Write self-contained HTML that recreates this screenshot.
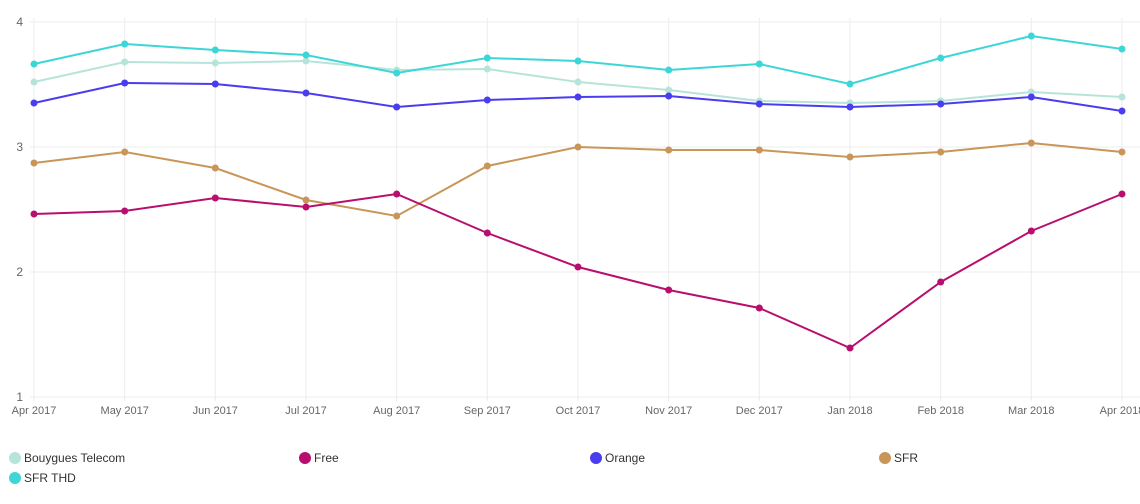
<!DOCTYPE html>
<html><head><style>
body{margin:0;background:#fff;font-family:"Liberation Sans",Arial,sans-serif;}
</style></head><body>
<svg width="1140" height="499" xmlns="http://www.w3.org/2000/svg" font-family="Liberation Sans, Arial, sans-serif">
<g stroke="#ececec" stroke-width="1">
<line x1="30" y1="22" x2="1140" y2="22"/><line x1="30" y1="147" x2="1140" y2="147"/>
<line x1="30" y1="272" x2="1140" y2="272"/><line x1="30" y1="397" x2="1140" y2="397"/>
<line x1="34" y1="18" x2="34" y2="401"/><line x1="124.7" y1="18" x2="124.7" y2="401"/><line x1="215.3" y1="18" x2="215.3" y2="401"/><line x1="306" y1="18" x2="306" y2="401"/><line x1="396.7" y1="18" x2="396.7" y2="401"/><line x1="487.3" y1="18" x2="487.3" y2="401"/><line x1="578" y1="18" x2="578" y2="401"/><line x1="668.7" y1="18" x2="668.7" y2="401"/><line x1="759.3" y1="18" x2="759.3" y2="401"/><line x1="850" y1="18" x2="850" y2="401"/><line x1="940.7" y1="18" x2="940.7" y2="401"/><line x1="1031.3" y1="18" x2="1031.3" y2="401"/><line x1="1122" y1="18" x2="1122" y2="401"/>
</g>
<g fill="#666" font-size="12" text-anchor="end">
<text x="23" y="26">4</text><text x="23" y="151">3</text><text x="23" y="276">2</text><text x="23" y="401">1</text>
</g>
<g fill="#666" font-size="11" text-anchor="middle">
<text x="34" y="414">Apr 2017</text><text x="124.7" y="414">May 2017</text><text x="215.3" y="414">Jun 2017</text><text x="306" y="414">Jul 2017</text><text x="396.7" y="414">Aug 2017</text><text x="487.3" y="414">Sep 2017</text><text x="578" y="414">Oct 2017</text><text x="668.7" y="414">Nov 2017</text><text x="759.3" y="414">Dec 2017</text><text x="850" y="414">Jan 2018</text><text x="940.7" y="414">Feb 2018</text><text x="1031.3" y="414">Mar 2018</text><text x="1122" y="414">Apr 2018</text>
</g>
<g id="series" fill="none" stroke-width="2"></g>
<g font-size="12" fill="#333">
<circle cx="15" cy="458" r="6" fill="#b7e4da"/><text x="24" y="462">Bouygues Telecom</text>
<circle cx="305" cy="458" r="6" fill="#b80e6e"/><text x="314" y="462">Free</text>
<circle cx="596" cy="458" r="6" fill="#4a3df0"/><text x="605" y="462">Orange</text>
<circle cx="885" cy="458" r="6" fill="#c9965a"/><text x="894" y="462">SFR</text>
<circle cx="15" cy="478" r="6" fill="#3dd6d6"/><text x="24" y="482">SFR THD</text>
</g>
</svg>
<script>
var xs=[];for(var i=0;i<13;i++)xs.push(34+i*90.667);
var S=[["#b7e4da",[82,62,63,61,70,69,82,90,101,103,101,92,97]],
["#3dd6d6",[64,44,50,55,73,58,61,70,64,84,58,36,49]],
["#4a3df0",[103,83,84,93,107,100,97,96,104,107,104,97,111]],
["#c9965a",[163,152,168,200,216,166,147,150,150,157,152,143,152]],
["#b80e6e",[214,211,198,207,194,233,267,290,308,348,282,231,194]]];
var g=document.getElementById("series"),h="";
S.forEach(function(s){var p=s[1].map(function(y,i){return xs[i].toFixed(1)+","+y}).join(" ");
h+='<polyline points="'+p+'" stroke="'+s[0]+'"/>';
s[1].forEach(function(y,i){h+='<circle cx="'+xs[i].toFixed(1)+'" cy="'+y+'" r="3.5" fill="'+s[0]+'" stroke="none"/>';});});
g.innerHTML=h;
</script>
</body></html>
